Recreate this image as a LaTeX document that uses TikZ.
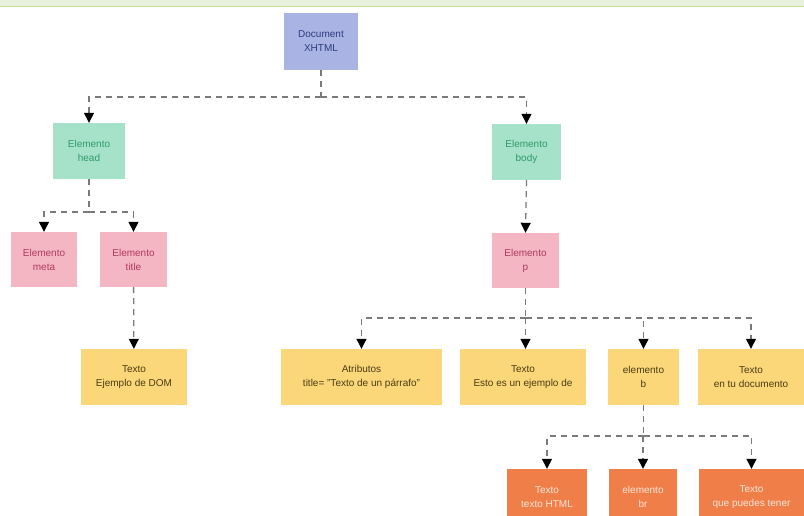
\documentclass[tikz,border=0pt]{standalone}
\usepackage{fontspec}
\setmainfont{Liberation Sans}
\usetikzlibrary{arrows.meta}
\definecolor{docfill}{HTML}{AAB4E4}
\definecolor{doctext}{HTML}{2C3A7C}
\definecolor{greenfill}{HTML}{A6E2CA}
\definecolor{greentext}{HTML}{2E9A6A}
\definecolor{pinkfill}{HTML}{F4B6C2}
\definecolor{pinktext}{HTML}{B03A5C}
\definecolor{yellowfill}{HTML}{FCD77A}
\definecolor{yellowtext}{HTML}{4A3C12}
\definecolor{orangefill}{HTML}{F07E48}
\definecolor{orangetext}{HTML}{FFE6D8}
\definecolor{bandfill}{HTML}{E9F1DE}
\definecolor{bandline}{HTML}{C5DA9E}
\definecolor{linkgray}{HTML}{7A7A7A}
\begin{document}
\begin{tikzpicture}[x=1pt,y=-1pt,
  box/.style={inner sep=0pt, minimum height=56pt, align=center, font=\fontsize{10}{14}\selectfont},
  docbox/.style={box, fill=docfill, text=doctext},
  greenbox/.style={box, fill=greenfill, text=greentext},
  pinkbox/.style={box, fill=pinkfill, text=pinktext},
  yellowbox/.style={box, fill=yellowfill, text=yellowtext},
  orangebox/.style={box, fill=orangefill, text=orangetext},
  link/.style={draw=linkgray, line width=1.3pt, dash pattern=on 6pt off 5pt},
  arrowlink/.style={link, -{Triangle[length=10pt,width=10pt,color=black]}},
]
\useasboundingbox (0,0) rectangle (804,515);
\clip (0,0) rectangle (804,515);
\fill[white] (0,0) rectangle (804,515);
% top band
\fill[bandfill] (0,0) rectangle (804,6);
\draw[bandline, line width=1.8pt] (0,6.5) -- (804,6.5);

% nodes
\node[docbox, minimum width=74pt, minimum height=57pt] (doc) at (321,41.5) {Document\\XHTML};
\node[greenbox, minimum width=72pt] (head) at (89,151) {Elemento\\head};
\node[greenbox, minimum width=69pt] (body) at (526.5,152) {Elemento\\body};
\node[pinkbox, minimum width=66pt, minimum height=55pt] (meta) at (44,259.5) {Elemento\\meta};
\node[pinkbox, minimum width=67pt, minimum height=55pt] (title) at (133.5,259.5) {Elemento\\title};
\node[yellowbox, minimum width=106pt] (dom) at (134,377) {Texto\\Ejemplo de DOM};
\node[pinkbox, minimum width=67pt, minimum height=55pt] (p) at (525.5,260.5) {Elemento\\p};
\node[yellowbox, minimum width=161pt] (attr) at (361.5,377) {Atributos\\title= "Texto de un párrafo"};
\node[yellowbox, minimum width=126pt] (esto) at (523,377) {Texto\\Esto es un ejemplo de};
\node[yellowbox, minimum width=71pt] (b) at (643.5,377) {elemento\\b};
\node[yellowbox, minimum width=106pt] (entu) at (751,377) {Texto\\en tu documento};
\node[orangebox, minimum width=80pt] (html) at (547,497) {Texto\\texto HTML};
\node[orangebox, minimum width=68pt] (br) at (643,497) {elemento\\br};
\node[orangebox, minimum width=105pt] (puedes) at (751.5,497) {Texto\\que puedes tener};

% junctions
\coordinate (j1) at (321,97);
\coordinate (j2) at (89,212);
\coordinate (j3) at (525.5,318);
\coordinate (j4) at (643.5,436);

% connectors
\draw[link] (doc) -- (j1);
\draw[arrowlink] (j1) -| (head);
\draw[arrowlink] (j1) -| (body);

\draw[link] (head) -- (j2);
\draw[arrowlink] (j2) -| (meta);
\draw[arrowlink] (j2) -| (title);

\draw[arrowlink] (title) -- (dom);
\draw[arrowlink] (body.south) -- (p.north);

\draw[link] (p) -- (j3);
\draw[arrowlink] (j3) -| (attr);
\draw[arrowlink] (j3) -- (j3 |- esto.north);
\draw[arrowlink] (j3) -| (b);
\draw[arrowlink] (j3) -| (entu);

\draw[link] (b) -- (j4);
\draw[arrowlink] (j4) -| (html);
\draw[arrowlink] (j4) -| (br);
\draw[arrowlink] (j4) -| (puedes);
\end{tikzpicture}
\end{document}
